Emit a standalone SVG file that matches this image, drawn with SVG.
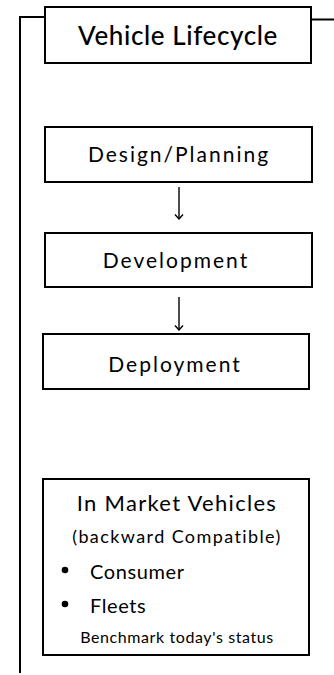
<svg xmlns="http://www.w3.org/2000/svg" width="334" height="675" viewBox="0 0 334 675">
  <defs>
    <style>
      .box { fill: #fff; stroke: #000; stroke-width: 2; }
      .wire { fill: none; stroke: #000; stroke-width: 2; }
      .arrow { fill: none; stroke: #000; stroke-width: 1.4; }
      text { font-family: Lato, "Liberation Sans", sans-serif; fill: #000; }
      .title { font-size: 26px; font-weight: 500; letter-spacing: 0.6px; text-anchor: middle; }
      .label { font-size: 21px; letter-spacing: 2px; text-anchor: middle; }
      .head { font-size: 22px; letter-spacing: 1.3px; text-anchor: middle; }
      .sub { font-size: 18px; letter-spacing: 1.4px; text-anchor: middle; }
      .item { font-size: 20px; letter-spacing: 0.6px; }
      .note { font-size: 16px; letter-spacing: 0.6px; text-anchor: middle; }
    </style>
    <marker id="head" viewBox="0 0 10 10" refX="9" refY="5" markerWidth="10" markerHeight="10" markerUnits="userSpaceOnUse" orient="auto">
      <path d="M4.5,1 L9,5 L4.5,9" fill="none" stroke="#000" stroke-width="1.4"/>
    </marker>
  </defs>

  <rect width="334" height="675" fill="#fff"/>

  <!-- bracket lines and flow arrows -->
  <g id="connectors">
    <path class="wire" d="M20,673 V17 H45"/>
    <path class="wire" d="M311,19.5 H334"/>
    <path class="arrow" d="M179,187 V219" marker-end="url(#head)"/>
    <path class="arrow" d="M179,297 V330" marker-end="url(#head)"/>
  </g>

  <g id="title">
    <rect class="box" x="45" y="7" width="266" height="56"/>
    <text class="title" x="178" y="45">Vehicle Lifecycle</text>
  </g>

  <g id="design">
    <rect class="box" x="45" y="127" width="267" height="55"/>
    <text class="label" x="179" y="162">Design/Planning</text>
  </g>

  <g id="development">
    <rect class="box" x="45" y="233" width="267" height="54"/>
    <text class="label" x="176" y="268">Development</text>
  </g>

  <g id="deployment">
    <rect class="box" x="43" y="334" width="266" height="55"/>
    <text class="label" x="175" y="372">Deployment</text>
  </g>

  <g id="in-market">
    <rect class="box" x="43" y="479" width="266" height="176"/>
    <text class="head" x="177" y="511">In Market Vehicles</text>
    <text class="sub" x="177" y="543">(backward Compatible)</text>
    <circle cx="65" cy="570" r="3.3" fill="#000"/>
    <text class="item" x="90" y="579">Consumer</text>
    <circle cx="65" cy="604" r="3.3" fill="#000"/>
    <text class="item" x="90" y="613">Fleets</text>
    <text class="note" x="177" y="643">Benchmark today's status</text>
  </g>
</svg>
